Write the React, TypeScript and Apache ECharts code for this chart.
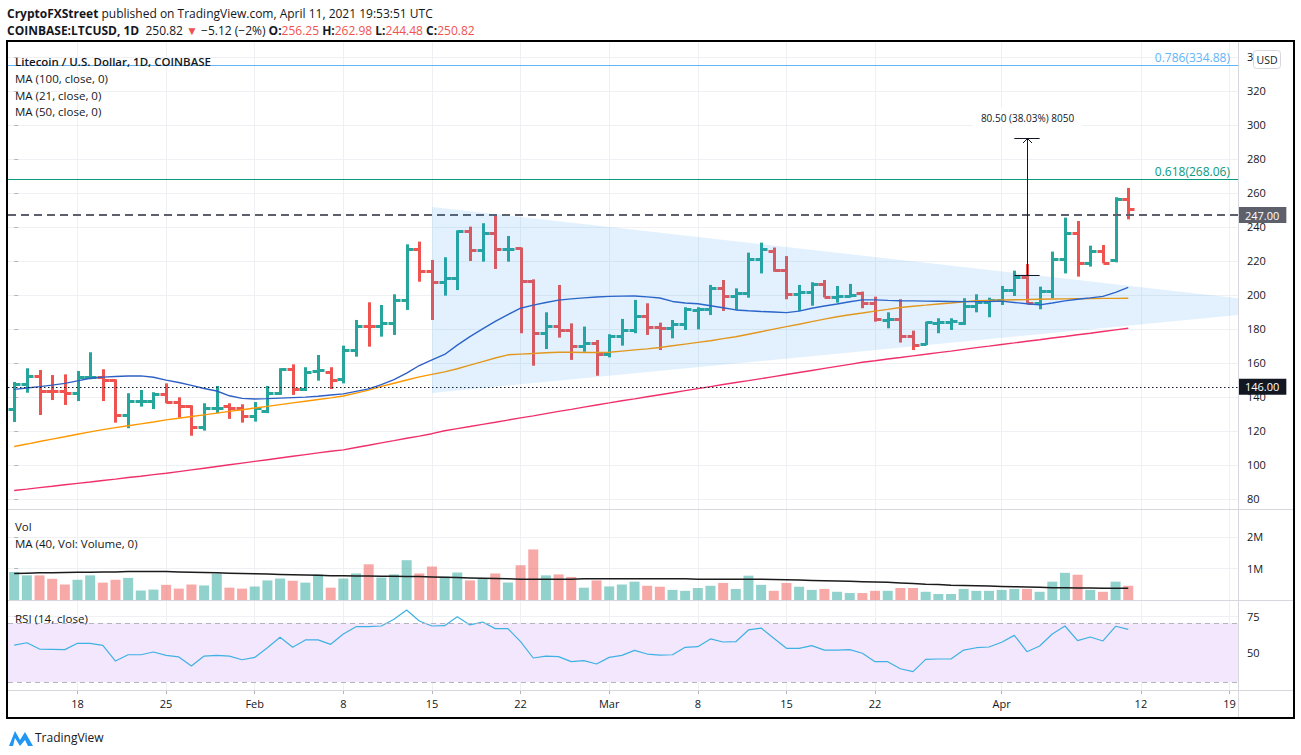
import React, { useEffect, useRef } from "react";
import * as echarts from "echarts";

const FONT = "'Open Sans', 'Noto Sans', sans-serif";
const GREEN = "#26a69a";
const RED = "#ef5350";
const TEXT = "#131722";
const GRID = "#eef0f3";
const SEP = "#d6d8de";

// Daily bars, index 0 = 2021-01-13 ... index 88 = 2021-04-11
const OPEN = [132.9,147.6,152.5,143.5,143.5,142.2,151.6,151.9,150.0,129.4,137.6,137.6,141.8,136.9,134.9,122.2,133.3,134.9,133.3,129.0,132.0,142.2,156.3,144.7,155.0,154.9,150.6,167.6,182.0,181.9,183.3,197.1,226.9,214.3,207.8,209.8,237.6,226.5,236.6,226.8,227.9,208.2,177.5,181.8,179.4,170.0,172.0,165.1,175.9,179.4,187.6,181.0,180.4,182.9,191.4,191.6,204.3,199.6,201.0,221.0,225.9,214.7,200.4,202.0,206.3,199.0,199.6,201.4,195.5,185.5,185.7,175.9,171.2,183.7,184.1,183.7,193.7,196.1,197.1,202.9,210.8,195.5,202.5,221.0,236.6,219.0,226.0,220.6,256.25];
const HIGH = [148.8,156.9,155.9,152.9,153.3,155.3,166.3,156.3,150.4,142.2,144.1,142.8,148.0,139.8,135.1,136.3,146.5,136.3,135.7,137.0,146.5,156.9,159.2,157.5,164.7,157.5,170.2,185.3,195.7,194.1,200.4,229.8,231.4,220.6,222.2,238.0,240.2,242.2,246.6,234.7,227.9,209.2,189.8,205.9,183.3,181.4,173.5,176.9,185.9,197.1,195.1,183.7,185.3,192.8,192.8,205.9,208.8,203.9,224.9,230.8,227.9,222.9,205.9,207.5,208.8,205.3,206.5,202.0,199.0,189.8,197.5,179.0,184.3,186.3,186.3,198.1,200.4,198.4,205.3,214.3,218.2,204.9,225.5,245.5,243.5,229.0,229.4,257.5,262.98];
const LOW = [125.3,142.5,129.4,138.2,135.3,137.6,150.4,137.6,124.9,121.6,134.3,132.9,136.3,127.8,117.2,120.2,130.4,127.1,124.9,125.5,130.5,141.2,141.2,143.5,149.6,144.7,148.0,163.7,169.6,175.5,176.5,191.2,207.8,185.3,199.6,202.9,220.0,219.6,215.3,219.6,177.5,158.4,168.2,174.9,161.8,166.6,152.5,163.3,170.2,177.5,176.5,167.6,174.5,179.4,179.8,188.2,190.6,191.2,198.4,212.7,213.7,197.5,190.6,193.7,198.6,195.5,198.6,192.2,184.3,180.4,172.0,167.6,170.6,177.5,179.4,182.4,189.8,186.9,194.1,199.4,194.7,191.6,198.1,212.7,210.8,216.7,218.6,219.2,244.48];
const CLOSE = [147.6,152.5,143.5,143.3,142.2,151.9,152.0,150.0,129.4,137.6,137.8,141.8,136.9,134.9,122.2,133.3,133.6,133.3,129.0,133.3,142.2,156.3,144.7,154.9,155.7,150.0,167.6,181.9,181.5,183.3,197.1,226.9,214.3,207.8,209.8,237.6,226.5,236.6,227.1,227.2,208.2,177.5,181.8,179.4,170.0,172.0,165.1,175.9,179.4,187.6,181.0,180.4,182.9,191.6,191.8,204.3,199.6,201.0,221.0,226.9,214.7,200.4,202.0,206.3,199.0,199.6,200.0,195.5,185.7,185.9,175.9,170.6,184.3,184.3,184.5,193.7,196.1,197.1,202.9,210.8,195.5,202.5,221.0,236.6,219.0,226.0,219.0,256.25,250.82];

const MA21 = [144.5,145.3,146.1,147.0,148.0,149.5,151.0,151.7,152.0,152.3,152.4,151.6,149.9,148.5,146.8,145.0,143.5,140.7,139.2,138.8,139.0,139.3,139.6,139.9,140.4,141.2,141.8,143.3,144.8,147.3,150.2,154.0,158.5,161.8,165.0,170.5,175.5,180.0,184.5,188.5,192.2,194.0,195.6,197.0,197.7,198.3,198.8,199.2,199.3,199.4,198.9,198.2,196.2,195.3,194.8,193.7,192.5,191.2,190.7,190.3,190.0,189.6,190.5,192.2,193.5,194.7,196.0,197.1,197.1,196.8,196.6,196.5,196.4,196.3,196.2,196.1,196.1,196.2,196.4,195.6,194.8,194.2,195.3,196.5,197.5,198.3,199.2,201.5,204.5];
const MA50 = [110.9,112.3,113.8,115.2,116.6,118.1,119.5,120.8,122.0,123.1,124.2,125.3,126.5,127.5,128.5,129.5,130.5,131.5,132.5,133.5,134.5,135.5,136.5,137.5,138.5,139.5,140.6,142.3,144.0,146.2,148.1,150.0,151.8,153.3,154.8,156.6,158.7,160.8,162.9,164.8,165.2,165.6,166.0,166.3,166.3,166.2,166.2,166.3,167.0,167.7,168.3,169.1,170.1,171.1,172.1,173.1,174.3,175.4,176.9,178.4,179.9,181.4,182.8,184.3,185.8,187.2,188.4,189.4,190.5,191.5,192.6,193.4,194.0,194.7,195.3,196.0,196.6,196.8,197.0,197.2,197.3,197.5,197.6,197.7,197.8,197.9,198.0,198.0,198.1];
const MA100 = [85.0,85.8,86.7,87.5,88.4,89.2,90.0,90.9,91.7,92.6,93.4,94.3,95.1,96.1,97.1,98.1,99.1,100.1,101.1,102.1,103.1,104.1,105.1,106.1,107.1,108.1,108.9,110.3,111.6,113.0,114.3,115.7,117.0,118.4,120.1,121.4,122.6,123.9,125.1,126.4,127.7,128.9,130.2,131.5,132.7,134.0,135.3,136.5,137.8,138.9,140.1,141.3,142.5,143.7,144.9,146.1,147.3,148.5,149.6,150.8,152.0,153.2,154.4,155.6,156.8,158.0,159.2,160.4,161.3,162.3,163.2,164.2,165.1,166.1,167.0,168.0,169.0,169.9,170.9,171.8,172.8,173.7,174.7,175.6,176.6,177.5,178.5,179.5,180.4];

// volume in millions
const VOLUME = [0.89,0.78,0.78,0.67,0.49,0.64,0.78,0.55,0.64,0.70,0.30,0.33,0.48,0.36,0.49,0.46,0.83,0.39,0.36,0.43,0.62,0.68,0.61,0.55,0.81,0.39,0.68,0.84,1.13,0.71,0.81,1.26,0.84,1.06,0.74,0.87,0.62,0.68,0.84,0.55,1.10,1.60,0.78,0.81,0.73,0.39,0.62,0.43,0.49,0.58,0.45,0.42,0.32,0.29,0.38,0.45,0.54,0.35,0.77,0.48,0.29,0.54,0.42,0.32,0.35,0.26,0.22,0.22,0.29,0.29,0.38,0.38,0.26,0.19,0.19,0.35,0.29,0.29,0.32,0.35,0.35,0.26,0.58,0.86,0.80,0.32,0.26,0.58,0.45];
const VOL_MA40 = [0.84,0.85,0.86,0.86,0.87,0.88,0.88,0.89,0.89,0.90,0.90,0.90,0.90,0.89,0.88,0.87,0.86,0.85,0.84,0.83,0.82,0.81,0.80,0.79,0.78,0.77,0.77,0.76,0.76,0.75,0.75,0.74,0.74,0.73,0.72,0.71,0.70,0.69,0.68,0.67,0.66,0.66,0.66,0.66,0.66,0.67,0.67,0.67,0.67,0.67,0.67,0.67,0.67,0.67,0.66,0.66,0.66,0.66,0.66,0.66,0.65,0.64,0.63,0.62,0.61,0.60,0.59,0.58,0.57,0.56,0.54,0.52,0.50,0.49,0.47,0.46,0.45,0.44,0.43,0.42,0.41,0.40,0.39,0.39,0.38,0.38,0.37,0.37,0.37];
const RSI = [55.2,56.8,52.5,52.3,52.1,56.4,56.4,55.0,44.3,48.6,48.6,50.5,48.2,47.1,40.9,47.7,48.2,47.7,45.2,46.8,53.4,60.5,53.7,58.7,58.7,55.7,62.7,67.7,67.7,68.2,72.8,79.1,71.6,68.2,68.4,74.5,68.9,70.9,66.4,66.4,57.5,46.4,47.7,47.3,43.9,44.6,42.3,46.8,48.2,51.6,49.1,48.4,48.6,53.7,54.1,59.4,57.3,57.5,65.5,66.8,59.8,53.0,53.0,54.8,51.8,51.8,52.1,49.6,43.9,43.9,39.1,37.1,45.5,45.7,45.7,51.8,53.4,53.9,57.1,61.8,50.7,54.6,62.7,68.2,58.2,60.7,58.0,68.0,65.9];

const X_TICK_INDEX = [5, 12, 19, 26, 33, 40, 47, 54, 61, 68, 78, 89, 96];
const X_TICK_LABELS = ["18", "25", "Feb", "8", "15", "22", "Mar", "8", "15", "22", "Apr", "12", "19"];
const PRICE_TICKS = [80, 100, 120, 140, 160, 180, 200, 220, 240, 260, 280, 300, 320, 340];
const VOL_TICKS = [1, 2];
const RSI_TICKS = [50, 75];
const RSI_BAND = [30, 70];

const FIB_LEVELS = [0.786, 0.618];
const FIB_PRICES = [334.88, 268.06];
const FIB_COLORS = ["#64b5f6", "#089981"];
const RESISTANCE = 247;
const SUPPORT = 146;

const TRIANGLE_X = [33, 103, 33];
const TRIANGLE_Y = [251.8, 192.8, 142.4];
const MEASURE = [80, 211.67, 292.17];

const X_MIN = -0.49;
const X_MAX = 96.67;

const ohlcRender = (params: any, api: any) => {
  const i = api.value(0);
  const o = api.value(1), h = api.value(2), l = api.value(3), c = api.value(4);
  const color = c >= o ? GREEN : RED;
  const pH = api.coord([i, h]);
  const pL = api.coord([i, l]);
  const pO = api.coord([i, o]);
  const pC = api.coord([i, c]);
  const x = Math.round(pH[0]) + 0.5;
  const yO = Math.round(pO[1]) + 0.5;
  const yC = Math.round(pC[1]) + 0.5;
  const st = { stroke: color, lineWidth: 3 };
  return {
    type: "group",
    children: [
      { type: "line", shape: { x1: x, y1: pH[1], x2: x, y2: pL[1] }, style: st },
      { type: "line", shape: { x1: x - 6, y1: yO, x2: x, y2: yO }, style: st },
      { type: "line", shape: { x1: x, y1: yC, x2: x + 6, y2: yC }, style: st },
    ],
  };
};

const triangleRender = (params: any, api: any) => {
  const pts = TRIANGLE_X.map((x, k) => api.coord([x, TRIANGLE_Y[k]]));
  return { type: "polygon", shape: { points: pts }, style: { fill: "rgba(33,150,243,0.13)" } };
};

const measureRender = (params: any, api: any) => {
  const i = api.value(0), a = api.value(1), b = api.value(2);
  const pA = api.coord([i, a]);
  const pB = api.coord([i, b]);
  const pL = api.coord([i - 1, a]);
  const pR = api.coord([i + 1, a]);
  const x = Math.round(pA[0]) + 0.5;
  const yA = Math.round(pA[1]) + 0.5;
  const yB = Math.round(pB[1]) + 0.5;
  const diff = b - a;
  const txt = `${diff.toFixed(2)} (${((diff / a) * 100).toFixed(2)}%) ${Math.round(diff * 100)}`;
  const st = { stroke: TEXT, lineWidth: 1, fill: "none" };
  return {
    type: "group",
    children: [
      { type: "line", shape: { x1: x, y1: yA, x2: x, y2: yB }, style: st },
      { type: "line", shape: { x1: pL[0], y1: yA, x2: pR[0], y2: yA }, style: st },
      { type: "line", shape: { x1: pL[0], y1: yB, x2: pR[0], y2: yB }, style: st },
      { type: "polyline", shape: { points: [[x - 4.5, yB + 4.5], [x, yB], [x + 4.5, yB + 4.5]] }, style: st },
      {
        type: "text",
        x: x,
        y: yB - 21,
        style: {
          text: txt, align: "center", verticalAlign: "middle", fontSize: 10, fontFamily: FONT,
          fill: TEXT, backgroundColor: "#ffffff", padding: [4, 8],
        },
      },
    ],
  };
};

const idx = (arr: number[]) => arr.map((v, i) => [i, v]);

const txt = (x: number, y: number, text: string, size = 11, weight: any = "normal", color = TEXT) => ({
  type: "text",
  x, y, z: 100,
  style: { text, fontSize: size, fontWeight: weight, fontFamily: FONT, fill: color, verticalAlign: "middle", align: "left" },
});

export default function App() {
  const ref = useRef<HTMLDivElement>(null);
  useEffect(() => {
    if (!ref.current) return;
    const chart = echarts.init(ref.current, undefined, { renderer: "svg" });

    const xAxisBase = (g: number) => ({
      type: "value", gridIndex: g, min: X_MIN, max: X_MAX,
      axisLine: { show: false },
      axisTick: { show: g === 2, customValues: X_TICK_INDEX, length: 4, lineStyle: { color: "#b2b5be" } },
      axisLabel: {
        show: g === 2, customValues: X_TICK_INDEX, margin: 8, fontSize: 11, fontFamily: FONT, color: TEXT,
        formatter: (v: number) => X_TICK_LABELS[X_TICK_INDEX.indexOf(Math.round(v))] ?? "",
      },
      splitLine: { show: true, lineStyle: { color: GRID, width: 1 } },
    });
    const yAxisBase = (g: number, min: number, max: number, ticks: number[], fmt?: any) => ({
      type: "value", gridIndex: g, position: "right", min, max,
      axisLine: { show: false },
      axisTick: { show: true, customValues: ticks, length: 4, lineStyle: { color: "#b2b5be" } },
      axisLabel: { customValues: ticks, margin: 9, fontSize: 11, fontFamily: FONT, color: TEXT, formatter: fmt },
      splitLine: { show: true, lineStyle: { color: GRID, width: 1 } },
    });

    const levelLines: any[] = FIB_PRICES.map((p, k) => ({
      yAxis: p,
      lineStyle: { color: FIB_COLORS[k], width: 1, type: "solid" },
      label: {
        show: true, position: "insideEndTop", formatter: `${FIB_LEVELS[k]}(${p.toFixed(2)})`,
        color: FIB_COLORS[k], fontSize: 12, fontFamily: FONT, distance: [8, 2],
      },
    }));
    levelLines.push({
      yAxis: RESISTANCE,
      lineStyle: { color: "#5d606b", width: 2, type: [8, 5] },
      label: {
        show: true, position: "end", formatter: RESISTANCE.toFixed(2), color: "#fff", backgroundColor: "#5d606b",
        padding: [3, 7, 2, 7], distance: 0, fontSize: 11, fontFamily: FONT,
      },
    });
    levelLines.push({
      yAxis: SUPPORT,
      lineStyle: { color: TEXT, width: 1, type: [1.5, 2.5] },
      label: {
        show: true, position: "end", formatter: SUPPORT.toFixed(2), color: "#fff", backgroundColor: TEXT,
        padding: [3, 7, 2, 7], distance: 0, fontSize: 11, fontFamily: FONT,
      },
    });

    const option: any = {
      animation: false,
      backgroundColor: "#ffffff",
      grid: [
        { left: 8, top: 41, width: 1230, height: 468 },
        { left: 8, top: 509, width: 1230, height: 91 },
        { left: 8, top: 600, width: 1230, height: 90 },
      ],
      xAxis: [xAxisBase(0), xAxisBase(1), xAxisBase(2)],
      yAxis: [
        yAxisBase(0, 74.1, 349.4, PRICE_TICKS),
        yAxisBase(1, 0, 2.88, VOL_TICKS, (v: number) => `${v}M`),
        yAxisBase(2, 24.6, 85.9, RSI_TICKS),
      ],
      series: [
        {
          type: "custom", name: "LTCUSD", xAxisIndex: 0, yAxisIndex: 0, z: 3,
          renderItem: ohlcRender,
          encode: { x: 0, y: [1, 2, 3, 4] },
          data: OPEN.map((o, i) => [i, o, HIGH[i], LOW[i], CLOSE[i]]),
        },
        {
          type: "line", name: "MA100", xAxisIndex: 0, yAxisIndex: 0, z: 4, showSymbol: false, silent: true,
          lineStyle: { color: "#f0306a", width: 1.4 }, data: idx(MA100),
        },
        {
          type: "line", name: "MA50", xAxisIndex: 0, yAxisIndex: 0, z: 4, showSymbol: false, silent: true,
          lineStyle: { color: "#ff9800", width: 1.4 }, data: idx(MA50),
        },
        {
          type: "line", name: "MA21", xAxisIndex: 0, yAxisIndex: 0, z: 4, showSymbol: false, silent: true,
          lineStyle: { color: "#2e5fc4", width: 1.4 }, data: idx(MA21),
          markLine: { symbol: ["none", "none"], silent: true, animation: false, data: levelLines },
        },
        {
          type: "custom", name: "triangle", xAxisIndex: 0, yAxisIndex: 0, z: 6, clip: true, silent: true,
          renderItem: triangleRender, encode: { x: 0, y: 1 },
          data: [[TRIANGLE_X[0], TRIANGLE_Y[0]]],
        },
        {
          type: "custom", name: "measure", xAxisIndex: 0, yAxisIndex: 0, z: 7, silent: true,
          renderItem: measureRender, encode: { x: 0, y: [1, 2] },
          data: [MEASURE],
        },
        {
          type: "bar", name: "Vol", xAxisIndex: 1, yAxisIndex: 1, barWidth: 10, silent: true,
          data: VOLUME.map((v, i) => ({
            value: [i, v],
            itemStyle: { color: CLOSE[i] >= OPEN[i] ? "rgba(38,166,154,0.5)" : "rgba(239,83,80,0.5)" },
          })),
        },
        {
          type: "line", name: "Vol MA40", xAxisIndex: 1, yAxisIndex: 1, z: 4, showSymbol: false, silent: true,
          lineStyle: { color: "#1b1b1b", width: 1.5 }, data: idx(VOL_MA40),
        },
        {
          type: "line", name: "RSI", xAxisIndex: 2, yAxisIndex: 2, z: 4, showSymbol: false, silent: true,
          lineStyle: { color: "#3fb1e3", width: 1.2 }, data: idx(RSI),
          markArea: {
            silent: true,
            itemStyle: { color: "#f3e7fd" },
            data: [[{ yAxis: RSI_BAND[0] }, { yAxis: RSI_BAND[1] }]],
          },
          markLine: {
            symbol: ["none", "none"], silent: true, label: { show: false },
            lineStyle: { color: "#b2b5be", type: [5, 4], width: 1 },
            data: RSI_BAND.map((v) => ({ yAxis: v })),
          },
        },
      ],
      graphic: [
        // frame and pane separators
        { type: "line", z: 90, shape: { x1: 8, y1: 509.5, x2: 1294, y2: 509.5 }, style: { stroke: SEP, lineWidth: 1 } },
        { type: "line", z: 90, shape: { x1: 8, y1: 600.5, x2: 1294, y2: 600.5 }, style: { stroke: SEP, lineWidth: 1 } },
        { type: "line", z: 90, shape: { x1: 8, y1: 690.5, x2: 1294, y2: 690.5 }, style: { stroke: SEP, lineWidth: 1 } },
        { type: "line", z: 90, shape: { x1: 1238.5, y1: 41, x2: 1238.5, y2: 718 }, style: { stroke: SEP, lineWidth: 1 } },
        { type: "rect", z: 95, shape: { x: 7, y: 41, width: 1287, height: 677 }, style: { fill: "none", stroke: "#000", lineWidth: 2 } },
        // header
        {
          type: "text", x: 7, y: 13, z: 100,
          style: {
            text: "{b|CryptoFXStreet}{n| published on TradingView.com, April 11, 2021 19:53:51 UTC}",
            verticalAlign: "middle",
            rich: {
              b: { fontSize: 12, fontFamily: FONT, fontWeight: "bold", fill: TEXT },
              n: { fontSize: 12, fontFamily: FONT, fill: TEXT },
            },
          },
        },
        {
          type: "text", x: 7, y: 30, z: 100,
          style: {
            text: "{b|COINBASE:LTCUSD, 1D}{n|  250.82 }{r|▼}{n| −5.12 (−2%) }{b|O:}{r|256.25}{b| H:}{r|262.98}{b| L:}{r|244.48}{b| C:}{r|250.82}",
            verticalAlign: "middle",
            rich: {
              b: { fontSize: 12, fontFamily: FONT, fontWeight: "bold", fill: TEXT },
              n: { fontSize: 12, fontFamily: FONT, fill: TEXT },
              r: { fontSize: 12, fontFamily: FONT, fill: RED },
            },
          },
        },
        // legends
        txt(15, 61, "Litecoin / U.S. Dollar, 1D, COINBASE", 11.5, 600),
        txt(15, 78, "MA (100, close, 0)", 11.5),
        txt(15, 95, "MA (21, close, 0)", 11.5),
        txt(15, 111, "MA (50, close, 0)", 11.5),
        txt(15, 526, "Vol", 11.5),
        txt(15, 543, "MA (40, Vol: Volume, 0)", 11.5),
        txt(15, 618, "RSI (14, close)", 11.5),
        // USD box
        {
          type: "rect", z: 100, shape: { x: 1253.5, y: 50.5, width: 27, height: 18, r: 3 },
          style: { fill: "#ffffff", stroke: "#d6d8de", lineWidth: 1 },
        },
        { type: "text", x: 1267, y: 60, z: 101, style: { text: "USD", fontSize: 10.5, fontFamily: FONT, fill: TEXT, align: "center", verticalAlign: "middle" } },
        // TradingView logo
        {
          type: "polygon", z: 100,
          shape: { points: [[9, 746], [15, 731], [20, 740], [25, 732], [33, 746], [28, 746], [25, 740], [20, 746], [15, 738], [13, 746]] },
          style: { fill: "#2196f3" },
        },
        { type: "text", x: 35, y: 737, z: 100, style: { text: "TradingView", fontSize: 12, fontFamily: FONT, fill: TEXT, verticalAlign: "middle" } },
      ],
    };

    chart.setOption(option);
    return () => chart.dispose();
  }, []);

  return (
    <div
      ref={ref}
      style={{ position: "absolute", left: 0, top: 0, width: 1301, height: 755, background: "#fff" }}
    />
  );
}
